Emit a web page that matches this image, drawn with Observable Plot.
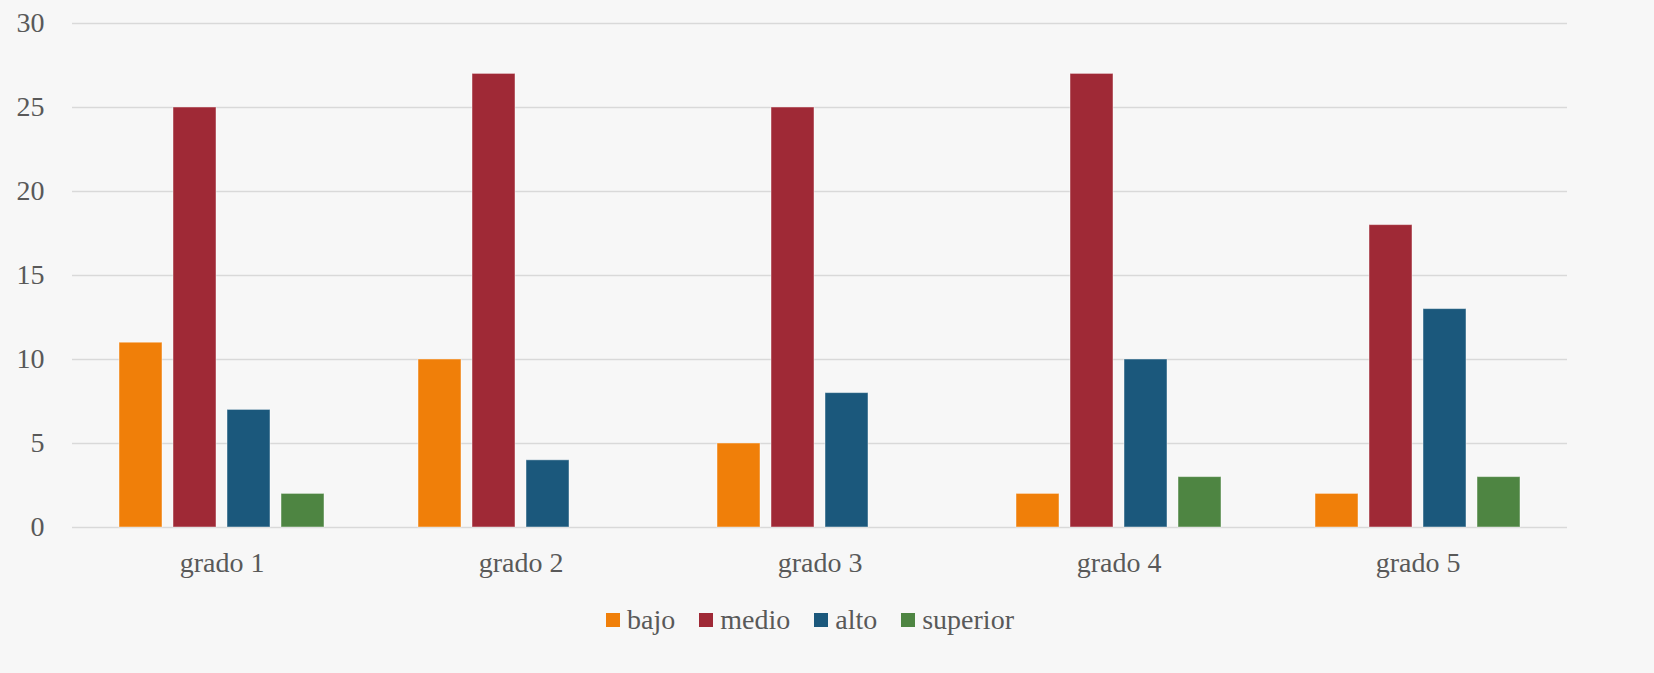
<!DOCTYPE html>
<html>
<head>
<meta charset="utf-8">
<script src="https://cdn.jsdelivr.net/npm/d3@7"></script>
<script src="https://cdn.jsdelivr.net/npm/@observablehq/plot@0.6"></script>
<style>
  html, body { margin: 0; padding: 0; background: #f7f7f7; }
  #chart { width: 1654px; }
  #legend { width: 1654px; display: flex; justify-content: center; align-items: center;
    font-family: "Liberation Serif", serif; font-size: 28px; color: #595959;
    margin-top: 14px; box-sizing: border-box; padding-right: 34px; }
  .item { display: flex; align-items: center; margin: 0 12px; }
  .sw { width: 14px; height: 14px; margin-right: 7px; }
</style>
</head>
<body>
<div id="chart"></div>
<div id="legend"></div>
<script>
const grades = ["grado 1", "grado 2", "grado 3", "grado 4", "grado 5"];
const series = ["bajo", "medio", "alto", "superior"];
const colors = ["#F07F09", "#9F2936", "#1B587C", "#4E8542"];
const bajo = [11, 10, 5, 2, 2];
const medio = [25, 27, 25, 27, 18];
const alto = [7, 4, 8, 10, 13];
const superior = [2, 0, 0, 3, 3];
const yTicks = [0, 5, 10, 15, 20, 25, 30];

const valuesBySeries = {bajo, medio, alto, superior};
const data = [];
grades.forEach((g, i) => series.forEach(s => data.push({grade: g, series: s, value: valuesBySeries[s][i]})));

const chart = Plot.plot({
  width: 1654,
  height: 590,
  marginLeft: 71,
  marginRight: 86,
  marginTop: 23,
  marginBottom: 63,
  style: {background: "transparent", fontFamily: "Liberation Serif, serif", fontSize: "28px", color: "#595959"},
  fx: {domain: grades, paddingInner: 0, paddingOuter: 0, label: null, axis: "bottom", tickSize: 0, tickPadding: 25},
  x: {domain: series, paddingInner: 0.2, paddingOuter: 0.82, axis: null},
  y: {domain: [0, 30], ticks: yTicks, label: null, tickSize: 0, tickPadding: 28},
  color: {domain: series, range: colors},
  marks: [
    Plot.gridY(yTicks, {stroke: "#d9d9d9", strokeOpacity: 1, strokeWidth: 1.6}),
    Plot.barY(data.filter(d => d.value > 0), {fx: "grade", x: "series", y: "value", fill: "series",
      stroke: "#ffffff", strokeOpacity: 0.45, strokeWidth: 1, inset: 0})
  ]
});
document.getElementById("chart").appendChild(chart);

const legend = document.getElementById("legend");
series.forEach((s, i) => {
  const it = document.createElement("div");
  it.className = "item";
  it.innerHTML = `<div class="sw" style="background:${colors[i]}"></div><span>${s}</span>`;
  legend.appendChild(it);
});
</script>
</body>
</html>
